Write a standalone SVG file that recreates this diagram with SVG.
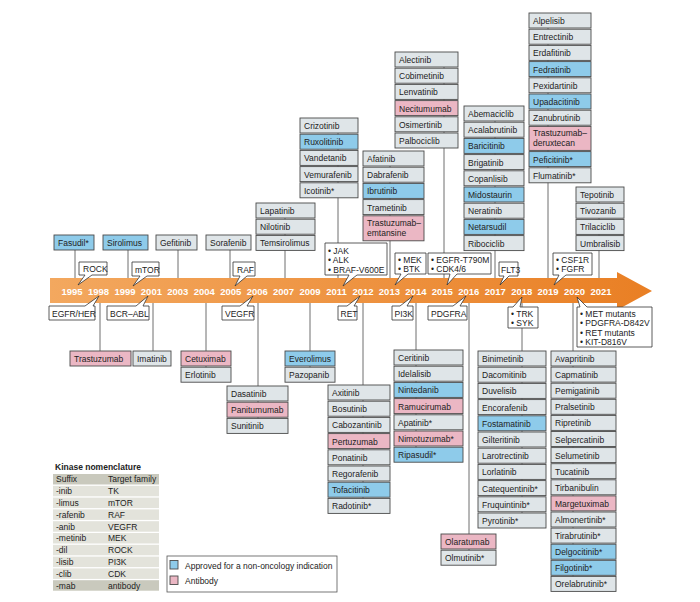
<svg xmlns="http://www.w3.org/2000/svg" width="700" height="602" viewBox="0 0 700 602">
<defs>
<linearGradient id="band" x1="0" y1="0" x2="1" y2="0">
<stop offset="0" stop-color="#f3a85f"/>
<stop offset="1" stop-color="#e97f24"/>
</linearGradient>
</defs>
<style>
text{font-family:"Liberation Sans",Arial,sans-serif;font-size:8.5px;fill:#222}
.g{fill:#dfe5e8;stroke:#4a4a4a;stroke-width:0.9}
.b{fill:#8ecbea;stroke:#4a4a4a;stroke-width:0.9}
.p{fill:#ebb7c4;stroke:#4a4a4a;stroke-width:0.9}
.c{fill:#fff;stroke:#333;stroke-width:0.8}
.yr{font-weight:bold;font-size:9.5px;fill:#fff;text-anchor:middle}
.ln{stroke:#6e6e6e;stroke-width:1;fill:none}
.th{fill:#c9c9bd}
.tr{fill:#e3e3db}
.tt{font-weight:bold}
</style>
<rect width="700" height="602" fill="#fff"/>

<g id="connectors">
<line class="ln" x1="75" y1="250" x2="75" y2="279"/>
<line class="ln" x1="128" y1="250" x2="128" y2="279"/>
<line class="ln" x1="178" y1="250" x2="178" y2="279"/>
<line class="ln" x1="230" y1="250" x2="230" y2="279"/>
<line class="ln" x1="285" y1="250" x2="285" y2="279"/>
<line class="ln" x1="338" y1="197" x2="338" y2="279"/>
<line class="ln" x1="390" y1="240" x2="390" y2="279"/>
<line class="ln" x1="444" y1="52" x2="444" y2="279"/>
<line class="ln" x1="495" y1="106" x2="495" y2="279"/>
<line class="ln" x1="548" y1="13" x2="548" y2="279"/>
<line class="ln" x1="599" y1="187" x2="599" y2="279"/>
<line class="ln" x1="285" y1="203" x2="285" y2="250"/>
<line class="ln" x1="338" y1="118" x2="338" y2="197"/>
<line class="ln" x1="390" y1="151" x2="390" y2="240"/>
<line class="ln" x1="100" y1="302" x2="100" y2="351"/>
<line class="ln" x1="153" y1="302" x2="153" y2="351"/>
<line class="ln" x1="206" y1="302" x2="206" y2="380"/>
<line class="ln" x1="258" y1="302" x2="258" y2="430"/>
<line class="ln" x1="310" y1="302" x2="310" y2="380"/>
<line class="ln" x1="363" y1="302" x2="363" y2="510"/>
<line class="ln" x1="416" y1="302" x2="416" y2="460"/>
<line class="ln" x1="469" y1="302" x2="469" y2="560"/>
<line class="ln" x1="522" y1="302" x2="522" y2="525"/>
<line class="ln" x1="573" y1="302" x2="573" y2="590"/>
</g>

<g id="timeline">
<path d="M50,278 H617 V272 L652,291 L617,310 V303 H50 Z" fill="url(#band)"/>
<text class="yr" x="72" y="294.5">1995</text>
<text class="yr" x="98.5" y="294.5">1998</text>
<text class="yr" x="125" y="294.5">1999</text>
<text class="yr" x="151.4" y="294.5">2001</text>
<text class="yr" x="177.8" y="294.5">2003</text>
<text class="yr" x="204.3" y="294.5">2004</text>
<text class="yr" x="230.7" y="294.5">2005</text>
<text class="yr" x="257.2" y="294.5">2006</text>
<text class="yr" x="283.6" y="294.5">2007</text>
<text class="yr" x="310" y="294.5">2009</text>
<text class="yr" x="336.5" y="294.5">2011</text>
<text class="yr" x="363" y="294.5">2012</text>
<text class="yr" x="389.4" y="294.5">2013</text>
<text class="yr" x="415.9" y="294.5">2014</text>
<text class="yr" x="442.3" y="294.5">2015</text>
<text class="yr" x="468.8" y="294.5">2016</text>
<text class="yr" x="495.2" y="294.5">2017</text>
<text class="yr" x="521.7" y="294.5">2018</text>
<text class="yr" x="548" y="294.5">2019</text>
<text class="yr" x="574.6" y="294.5">2020</text>
<text class="yr" x="601" y="294.5">2021</text>
</g>

<!-- top callouts -->
<g id="c-rock"><path class="c" d="M79,262 H107 V275 H92 L78,285 L85,275 H79 Z"/><text x="83" y="272">ROCK</text></g>
<g id="c-mtor"><path class="c" d="M132,262 H159 V276 H147 L133,286 L140,276 H132 Z"/><text x="135" y="272.5">mTOR</text></g>
<g id="c-raf"><path class="c" d="M233,262 H255 V276 H247 L235,286 L240,276 H233 Z"/><text x="237" y="272.5">RAF</text></g>
<g id="c-2011"><path class="c" d="M325,243 H387 V275 H357 L343,286 L349,275 H325 Z"/><text x="328" y="253.5">• JAK</text><text x="328" y="263">• ALK</text><text x="328" y="272.5">• BRAF-V600E</text></g>
<g id="c-2013"><path class="c" d="M395,253 H426 V274 H408 L395,285 L401,274 H395 Z"/><text x="398" y="262.5">• MEK</text><text x="398" y="272">• BTK</text></g>
<g id="c-2015"><path class="c" d="M428,253 H491 V274 H457 L447,285 L450,274 H428 Z"/><text x="431" y="262.5">• EGFR-T790M</text><text x="431" y="272">• CDK4/6</text></g>
<g id="c-flt3"><path class="c" d="M499,262 H518 V276 H509 L500,285 L504,276 H499 Z"/><text x="501" y="272.5">FLT3</text></g>
<g id="c-2019"><path class="c" d="M553,253 H592 V275 H566 L554,285 L559,275 H553 Z"/><text x="556" y="262.5">• CSF1R</text><text x="556" y="272">• FGFR</text></g>

<!-- bottom callouts -->
<g id="c-egfr"><path class="c" d="M49,306 H85 L99,296 L93,306 H95 V320 H49 Z"/><text x="52" y="316.5">EGFR/HER</text></g>
<g id="c-bcr"><path class="c" d="M107,306 H136 L148,296 L143,306 H149 V320 H107 Z"/><text x="110" y="316.5">BCR–ABL</text></g>
<g id="c-vegfr"><path class="c" d="M222,306 H240 L253,296 L247,306 H254 V320 H222 Z"/><text x="225" y="316.5">VEGFR</text></g>
<g id="c-ret"><path class="c" d="M338,306 H347 L360,296 L354,306 H357 V320 H338 Z"/><text x="340.5" y="316.5">RET</text></g>
<g id="c-pi3k"><path class="c" d="M392,306 H400 L413,296 L407,306 H413 V320 H392 Z"/><text x="394.5" y="316.5">PI3K</text></g>
<g id="c-pdgfra"><path class="c" d="M428,306 H453 L466,296 L460,306 H467 V320 H428 Z"/><text x="431" y="316.5">PDGFRA</text></g>
<g id="c-2018"><path class="c" d="M508,307 H513 L522,297 L520,307 H538 V328 H508 Z"/><text x="511" y="316.5">• TRK</text><text x="511" y="326">• SYK</text></g>
<g id="c-2020"><path class="c" d="M577,307 H580 L577,297 L587,307 H652 V347 H577 Z"/><text x="580" y="316.5">• MET mutants</text><text x="580" y="326">• PDGFRA-D842V</text><text x="580" y="335.5">• RET mutants</text><text x="580" y="345">• KIT-D816V</text></g>

<!-- top nodes -->
<g id="n-1995" transform="translate(54,235)"><rect class="b" width="40" height="15"/><text x="4" y="11">Fasudil*</text></g>
<g id="n-1999" transform="translate(103,235)"><rect class="b" width="45" height="15"/><text x="4" y="11">Sirolimus</text></g>
<g id="n-2003" transform="translate(156,235)"><rect class="g" width="41" height="15"/><text x="4" y="11">Gefitinib</text></g>
<g id="n-2005" transform="translate(206,235)"><rect class="g" width="45" height="15"/><text x="4" y="11">Sorafenib</text></g>
<g id="n-2007" transform="translate(256,203)">
<rect class="g" y="0" width="59" height="15"/><text x="4" y="11">Lapatinib</text>
<rect class="g" y="16.2" width="59" height="15"/><text x="4" y="27.2">Nilotinib</text>
<rect class="g" y="32.4" width="59" height="15"/><text x="4" y="43.4">Temsirolimus</text>
</g>
<g id="n-2011" transform="translate(300,118)">
<rect class="g" y="0" width="58" height="15"/><text x="4" y="11">Crizotinib</text>
<rect class="b" y="16.2" width="58" height="15"/><text x="4" y="27.2">Ruxolitinib</text>
<rect class="g" y="32.4" width="58" height="15"/><text x="4" y="43.4">Vandetanib</text>
<rect class="g" y="48.6" width="58" height="15"/><text x="4" y="59.6">Vemurafenib</text>
<rect class="g" y="64.8" width="58" height="15"/><text x="4" y="75.8">Icotinib*</text>
</g>
<g id="n-2013" transform="translate(363,151)">
<rect class="g" y="0" width="61" height="15"/><text x="4" y="11">Afatinib</text>
<rect class="g" y="16.2" width="61" height="15"/><text x="4" y="27.2">Dabrafenib</text>
<rect class="b" y="32.4" width="61" height="15"/><text x="4" y="43.4">Ibrutinib</text>
<rect class="g" y="48.6" width="61" height="15"/><text x="4" y="59.6">Trametinib</text>
<rect class="p" y="64.8" width="61" height="25"/><text x="4" y="74.8">Trastuzumab–</text><text x="4" y="84.8">emtansine</text>
</g>
<g id="n-2015" transform="translate(395,52)">
<rect class="g" y="0" width="63" height="15"/><text x="4" y="11">Alectinib</text>
<rect class="g" y="16.2" width="63" height="15"/><text x="4" y="27.2">Cobimetinib</text>
<rect class="g" y="32.4" width="63" height="15"/><text x="4" y="43.4">Lenvatinib</text>
<rect class="p" y="48.6" width="63" height="15"/><text x="4" y="59.6">Necitumumab</text>
<rect class="g" y="64.8" width="63" height="15"/><text x="4" y="75.8">Osimertinib</text>
<rect class="g" y="81" width="63" height="15"/><text x="4" y="92">Palbociclib</text>
</g>
<g id="n-2017" transform="translate(464,106)">
<rect class="g" y="0" width="60" height="15"/><text x="4" y="11">Abemaciclib</text>
<rect class="g" y="16.2" width="60" height="15"/><text x="4" y="27.2">Acalabrutinib</text>
<rect class="b" y="32.4" width="60" height="15"/><text x="4" y="43.4">Baricitinib</text>
<rect class="g" y="48.6" width="60" height="15"/><text x="4" y="59.6">Brigatinib</text>
<rect class="g" y="64.8" width="60" height="15"/><text x="4" y="75.8">Copanlisib</text>
<rect class="b" y="81" width="60" height="15"/><text x="4" y="92">Midostaurin</text>
<rect class="g" y="97.2" width="60" height="15"/><text x="4" y="108.2">Neratinib</text>
<rect class="b" y="113.4" width="60" height="15"/><text x="4" y="124.4">Netarsudil</text>
<rect class="g" y="129.6" width="60" height="15"/><text x="4" y="140.6">Ribociclib</text>
</g>
<g id="n-2019" transform="translate(529,13)">
<rect class="g" y="0" width="62" height="15"/><text x="4" y="11">Alpelisib</text>
<rect class="g" y="16.2" width="62" height="15"/><text x="4" y="27.2">Entrectinib</text>
<rect class="g" y="32.4" width="62" height="15"/><text x="4" y="43.4">Erdafitinib</text>
<rect class="b" y="48.6" width="62" height="15"/><text x="4" y="59.6">Fedratinib</text>
<rect class="g" y="64.8" width="62" height="15"/><text x="4" y="75.8">Pexidartinib</text>
<rect class="b" y="81" width="62" height="15"/><text x="4" y="92">Upadacitinib</text>
<rect class="g" y="97.2" width="62" height="15"/><text x="4" y="108.2">Zanubrutinib</text>
<rect class="p" y="113.4" width="62" height="24"/><text x="4" y="123">Trastuzumab–</text><text x="4" y="133">deruxtecan</text>
<rect class="b" y="138.6" width="62" height="15"/><text x="4" y="149.6">Peficitinib*</text>
<rect class="g" y="154.8" width="62" height="15"/><text x="4" y="165.8">Flumatinib*</text>
</g>
<g id="n-2021" transform="translate(576,187)">
<rect class="g" y="0" width="48" height="15"/><text x="4" y="11">Tepotinib</text>
<rect class="g" y="16.2" width="48" height="15"/><text x="4" y="27.2">Tivozanib</text>
<rect class="g" y="32.4" width="48" height="15"/><text x="4" y="43.4">Trilaciclib</text>
<rect class="g" y="48.6" width="48" height="15"/><text x="4" y="59.6">Umbralisib</text>
</g>

<!-- bottom nodes -->
<g id="n-1998" transform="translate(70,351)"><rect class="p" width="61" height="15"/><text x="4" y="11">Trastuzumab</text></g>
<g id="n-2001" transform="translate(133,351)"><rect class="g" width="38" height="15"/><text x="4" y="11">Imatinib</text></g>
<g id="n-2004" transform="translate(181,351)">
<rect class="p" y="0" width="50" height="15"/><text x="4" y="11">Cetuximab</text>
<rect class="g" y="16.2" width="50" height="15"/><text x="4" y="27.2">Erlotinib</text>
</g>
<g id="n-2006" transform="translate(227,386)">
<rect class="g" y="0" width="61" height="15"/><text x="4" y="11">Dasatinib</text>
<rect class="p" y="16.2" width="61" height="15"/><text x="4" y="27.2">Panitumumab</text>
<rect class="g" y="32.4" width="61" height="15"/><text x="4" y="43.4">Sunitinib</text>
</g>
<g id="n-2009" transform="translate(285,351)">
<rect class="b" y="0" width="50" height="15"/><text x="4" y="11">Everolimus</text>
<rect class="g" y="16.2" width="50" height="15"/><text x="4" y="27.2">Pazopanib</text>
</g>
<g id="n-2012" transform="translate(328,385)">
<rect class="g" y="0" width="62" height="15"/><text x="4" y="11">Axitinib</text>
<rect class="g" y="16.2" width="62" height="15"/><text x="4" y="27.2">Bosutinib</text>
<rect class="g" y="32.4" width="62" height="15"/><text x="4" y="43.4">Cabozantinib</text>
<rect class="p" y="48.6" width="62" height="15"/><text x="4" y="59.6">Pertuzumab</text>
<rect class="g" y="64.8" width="62" height="15"/><text x="4" y="75.8">Ponatinib</text>
<rect class="g" y="81" width="62" height="15"/><text x="4" y="92">Regorafenib</text>
<rect class="b" y="97.2" width="62" height="15"/><text x="4" y="108.2">Tofacitinib</text>
<rect class="g" y="113.4" width="62" height="15"/><text x="4" y="124.4">Radotinib*</text>
</g>
<g id="n-2014" transform="translate(394,350)">
<rect class="g" y="0" width="69" height="15"/><text x="4" y="11">Ceritinib</text>
<rect class="g" y="16.2" width="69" height="15"/><text x="4" y="27.2">Idelalisib</text>
<rect class="b" y="32.4" width="69" height="15"/><text x="4" y="43.4">Nintedanib</text>
<rect class="p" y="48.6" width="69" height="15"/><text x="4" y="59.6">Ramucirumab</text>
<rect class="g" y="64.8" width="69" height="15"/><text x="4" y="75.8">Apatinib*</text>
<rect class="p" y="81" width="69" height="15"/><text x="4" y="92">Nimotuzumab*</text>
<rect class="b" y="97.2" width="69" height="15"/><text x="4" y="108.2">Ripasudil*</text>
</g>
<g id="n-2016" transform="translate(441,534)">
<rect class="p" y="0" width="55" height="15"/><text x="4" y="11">Olaratumab</text>
<rect class="g" y="16.2" width="55" height="15"/><text x="4" y="27.2">Olmutinib*</text>
</g>
<g id="n-2018" transform="translate(478,351)">
<rect class="g" y="0" width="68" height="15"/><text x="4" y="11">Binimetinib</text>
<rect class="g" y="16.2" width="68" height="15"/><text x="4" y="27.2">Dacomitinib</text>
<rect class="g" y="32.4" width="68" height="15"/><text x="4" y="43.4">Duvelisib</text>
<rect class="g" y="48.6" width="68" height="15"/><text x="4" y="59.6">Encorafenib</text>
<rect class="b" y="64.8" width="68" height="15"/><text x="4" y="75.8">Fostamatinib</text>
<rect class="g" y="81" width="68" height="15"/><text x="4" y="92">Gilteritinib</text>
<rect class="g" y="97.2" width="68" height="15"/><text x="4" y="108.2">Larotrectinib</text>
<rect class="g" y="113.4" width="68" height="15"/><text x="4" y="124.4">Lorlatinib</text>
<rect class="g" y="129.6" width="68" height="15"/><text x="4" y="140.6">Catequentinib*</text>
<rect class="g" y="145.8" width="68" height="15"/><text x="4" y="156.8">Fruquintinib*</text>
<rect class="g" y="162" width="68" height="15"/><text x="4" y="173">Pyrotinib*</text>
</g>
<g id="n-2020" transform="translate(551,351)">
<rect class="g" y="0" width="65" height="15"/><text x="4" y="11">Avapritinib</text>
<rect class="g" y="16.1" width="65" height="15"/><text x="4" y="27.1">Capmatinib</text>
<rect class="g" y="32.2" width="65" height="15"/><text x="4" y="43.2">Pemigatinib</text>
<rect class="g" y="48.3" width="65" height="15"/><text x="4" y="59.3">Pralsetinib</text>
<rect class="g" y="64.4" width="65" height="15"/><text x="4" y="75.4">Ripretinib</text>
<rect class="g" y="80.5" width="65" height="15"/><text x="4" y="91.5">Selpercatinib</text>
<rect class="g" y="96.6" width="65" height="15"/><text x="4" y="107.6">Selumetinib</text>
<rect class="g" y="112.7" width="65" height="15"/><text x="4" y="123.7">Tucatinib</text>
<rect class="g" y="128.8" width="65" height="15"/><text x="4" y="139.8">Tirbanibulin</text>
<rect class="p" y="144.9" width="65" height="15"/><text x="4" y="155.9">Margetuximab</text>
<rect class="g" y="161" width="65" height="15"/><text x="4" y="172">Almonertinib*</text>
<rect class="g" y="177.1" width="65" height="15"/><text x="4" y="188.1">Tirabrutinib*</text>
<rect class="b" y="193.2" width="65" height="15"/><text x="4" y="204.2">Delgocitinib*</text>
<rect class="b" y="209.3" width="65" height="15"/><text x="4" y="220.3">Filgotinib*</text>
<rect class="g" y="225.4" width="65" height="15"/><text x="4" y="236.4">Orelabrutinib*</text>
</g>

<g id="nomenclature">
<text class="tt" x="55" y="470">Kinase nomenclature</text>
<rect class="th" x="53" y="474" width="106" height="10.5"/>
<rect class="tr" x="53" y="485.8" width="106" height="10.5"/>
<rect class="tr" x="53" y="497.6" width="106" height="10.5"/>
<rect class="tr" x="53" y="509.4" width="106" height="10.5"/>
<rect class="tr" x="53" y="521.2" width="106" height="10.5"/>
<rect class="tr" x="53" y="533" width="106" height="10.5"/>
<rect class="tr" x="53" y="544.8" width="106" height="10.5"/>
<rect class="tr" x="53" y="556.6" width="106" height="10.5"/>
<rect class="tr" x="53" y="568.4" width="106" height="10.5"/>
<rect class="th" x="53" y="580.2" width="106" height="10.5"/>
<text x="56" y="482.3">Suffix</text><text x="108" y="482.3">Target family</text>
<text x="56" y="494.1">-inib</text><text x="108" y="494.1">TK</text>
<text x="56" y="505.9">-limus</text><text x="108" y="505.9">mTOR</text>
<text x="56" y="517.7">-rafenib</text><text x="108" y="517.7">RAF</text>
<text x="56" y="529.5">-anib</text><text x="108" y="529.5">VEGFR</text>
<text x="56" y="541.3">-metinib</text><text x="108" y="541.3">MEK</text>
<text x="56" y="553.1">-dil</text><text x="108" y="553.1">ROCK</text>
<text x="56" y="564.9">-lisib</text><text x="108" y="564.9">PI3K</text>
<text x="56" y="576.7">-clib</text><text x="108" y="576.7">CDK</text>
<text x="56" y="588.5">-mab</text><text x="108" y="588.5">antibody</text>
</g>

<g id="legend">
<rect x="167" y="556" width="170" height="36" fill="#fff" stroke="#555" stroke-width="0.8"/>
<rect class="b" x="170" y="560.5" width="8" height="8.5"/>
<rect class="p" x="170" y="576" width="8" height="8.5"/>
<text x="185" y="568.5">Approved for a non-oncology indication</text>
<text x="185" y="584">Antibody</text>
</g>
</svg>
